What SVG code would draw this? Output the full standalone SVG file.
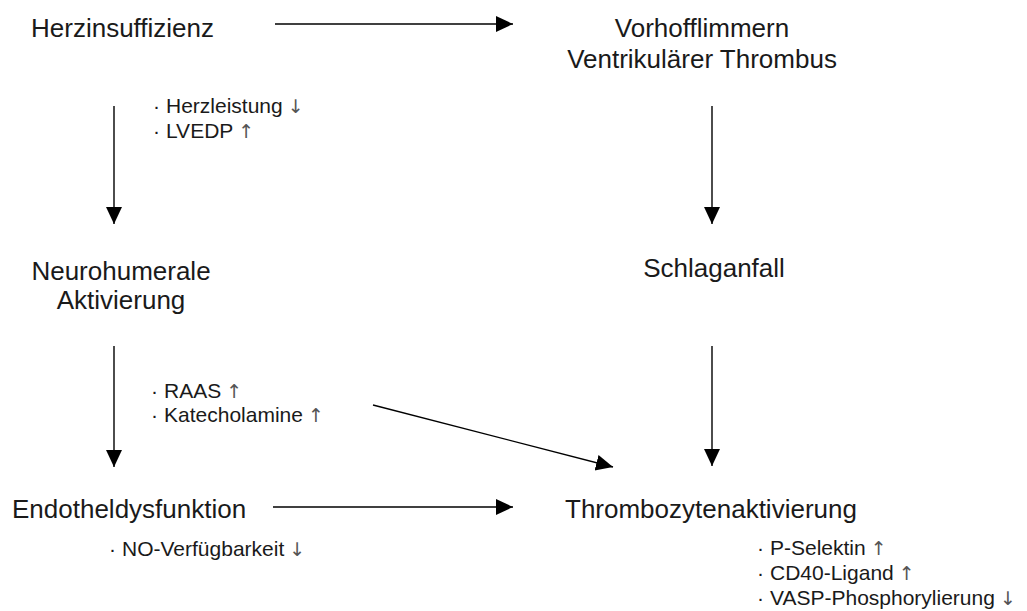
<svg xmlns="http://www.w3.org/2000/svg" width="1027" height="611" viewBox="0 0 1027 611">
  <style>
    .node { font-family: "Liberation Sans", Arial, sans-serif; font-size: 26px; fill: #1a1a1a; }
    .note { font-family: "Liberation Sans", Arial, sans-serif; font-size: 21px; fill: #1a1a1a; }
    .arr { font-family: "DejaVu Sans", sans-serif; font-size: 19px; fill: #555; }
    .mid { text-anchor: middle; }
    .edge { stroke: #000; stroke-width: 1.4; fill: none; marker-end: url(#head); }
  </style>
  <defs>
    <marker id="head" markerUnits="userSpaceOnUse" markerWidth="18" markerHeight="17" refX="17" refY="8" orient="auto">
      <path d="M0,0 L17,8 L0,16 Z" fill="#000"/>
    </marker>
  </defs>
  <rect width="1027" height="611" fill="#fff"/>

  <g id="connectors">
    <line class="edge" x1="275" y1="24" x2="513" y2="24"/>
    <line class="edge" x1="114" y1="106" x2="114" y2="224"/>
    <line class="edge" x1="712" y1="106" x2="712" y2="224"/>
    <line class="edge" x1="114" y1="346" x2="114" y2="467"/>
    <line class="edge" x1="712" y1="346" x2="712" y2="466"/>
    <line class="edge" x1="373" y1="405" x2="613" y2="467"/>
    <line class="edge" x1="273" y1="507" x2="513" y2="507"/>
  </g>

  <g id="herzinsuffizienz">
    <text class="node" x="31" y="37">Herzinsuffizienz</text>
  </g>
  <g id="vorhofflimmern">
    <text class="node mid" x="702" y="37">Vorhofflimmern</text>
    <text class="node mid" x="702" y="68">Ventrikulärer Thrombus</text>
  </g>
  <g id="neurohumerale-aktivierung">
    <text class="node mid" x="121" y="280">Neurohumerale</text>
    <text class="node mid" x="121" y="309">Aktivierung</text>
  </g>
  <g id="schlaganfall">
    <text class="node mid" x="714" y="277">Schlaganfall</text>
  </g>
  <g id="endotheldysfunktion">
    <text class="node" x="12" y="518">Endotheldysfunktion</text>
  </g>
  <g id="thrombozytenaktivierung">
    <text class="node" x="565" y="518">Thrombozytenaktivierung</text>
  </g>

  <!-- bullet notes: dot, label, trend arrow -->
  <g id="notes">
    <text class="note" x="153" y="113"><tspan>·</tspan><tspan dx="6">Herzleistung</tspan><tspan class="arr" dx="5">↓</tspan></text>
    <text class="note" x="153" y="138"><tspan>·</tspan><tspan dx="6">LVEDP</tspan><tspan class="arr" dx="5">↑</tspan></text>
    <text class="note" x="151" y="398"><tspan>·</tspan><tspan dx="6">RAAS</tspan><tspan class="arr" dx="5">↑</tspan></text>
    <text class="note" x="151" y="422"><tspan>·</tspan><tspan dx="6">Katecholamine</tspan><tspan class="arr" dx="5">↑</tspan></text>
    <text class="note" x="109" y="556"><tspan>·</tspan><tspan dx="6">NO-Verfügbarkeit</tspan><tspan class="arr" dx="5">↓</tspan></text>
    <text class="note" x="757" y="555"><tspan>·</tspan><tspan dx="6">P-Selektin</tspan><tspan class="arr" dx="5">↑</tspan></text>
    <text class="note" x="757" y="580"><tspan>·</tspan><tspan dx="6">CD40-Ligand</tspan><tspan class="arr" dx="5">↑</tspan></text>
    <text class="note" x="757" y="605"><tspan>·</tspan><tspan dx="6">VASP-Phosphorylierung</tspan><tspan class="arr" dx="5">↓</tspan></text>
  </g>
</svg>
